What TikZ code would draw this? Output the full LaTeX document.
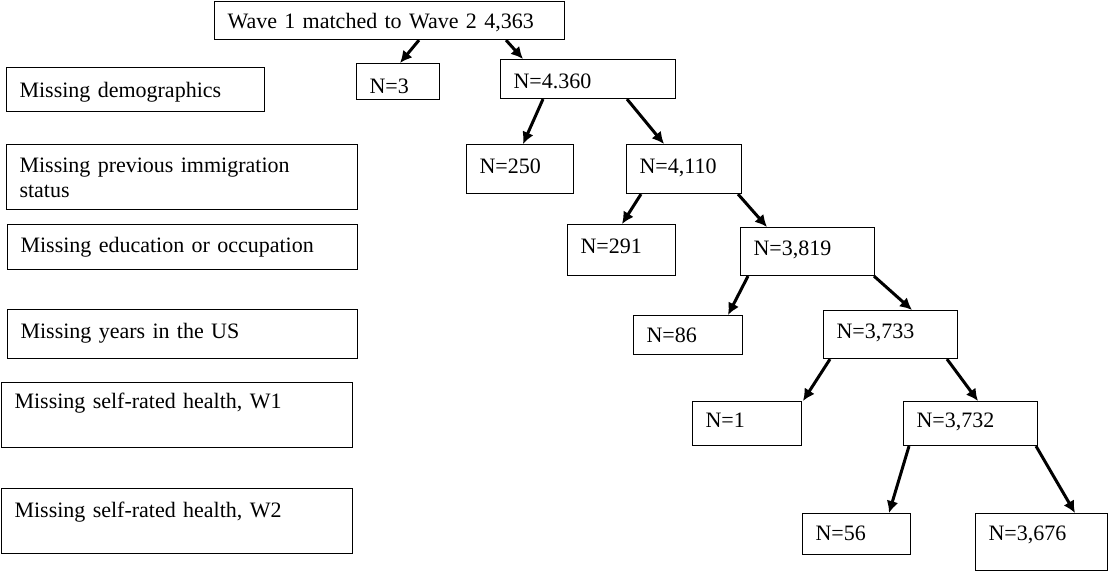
\documentclass[tikz,border=0pt]{standalone}
\usepackage{fontspec}
\setmainfont{Liberation Serif}
\usetikzlibrary{arrows.meta}
\begin{document}
\begin{tikzpicture}[x=1pt,y=-1pt,
    box/.style={draw,line width=1.1pt,anchor=north west,inner xsep=13pt,inner ysep=0pt,
        align=left,font=\fontsize{22pt}{25pt}\selectfont},
    arr/.style={-{Latex[length=12pt,width=12pt]},line width=3pt}]
\useasboundingbox (0,0) rectangle (1108,572);
% labels on the left
\node[box,text width=232pt,text height=30pt,text depth=14pt] (demo) at (6,67) {Missing demographics};
\node[box,text width=325pt,text height=28pt,text depth=37pt] (immig) at (6,144) {Missing previous immigration\\status};
\node[box,text width=324pt,text height=28pt,text depth=17pt] (edu) at (7,224) {Missing education or occupation};
\node[box,text width=324pt,text height=29pt,text depth=20pt] (years) at (7,309) {Missing years in the US};
\node[box,text width=325pt,text height=26pt,text depth=39pt] (srhone) at (1,382) {Missing self-rated health, W1};
\node[box,text width=325pt,text height=29pt,text depth=36pt] (srhtwo) at (1,488) {Missing self-rated health, W2};
% the tree
\node[box,text width=324pt,text height=27pt,text depth=11pt] (top) at (214,1) {Wave 1 matched to Wave 2 4,363};
\node[box,text width=57pt,text height=30pt,text depth=6pt] (n3) at (356,63) {N=3};
\node[box,text width=149pt,text height=29pt,text depth=10pt] (n4360) at (500,59) {N=4.360};
\node[box,text width=81pt,text height=29pt,text depth=20pt] (n250) at (466,144) {N=250};
\node[box,text width=89pt,text height=29pt,text depth=20pt] (n4110) at (626,144) {N=4,110};
\node[box,text width=82pt,text height=29pt,text depth=22pt] (n291) at (567,224) {N=291};
\node[box,text width=108pt,text height=28pt,text depth=20pt] (n3819) at (740,227) {N=3,819};
\node[box,text width=83pt,text height=27pt,text depth=12pt] (n86) at (633,315) {N=86};
\node[box,text width=108pt,text height=28pt,text depth=20pt] (n3733) at (823,310) {N=3,733};
\node[box,text width=83pt,text height=26pt,text depth=18pt] (n1) at (692,401) {N=1};
\node[box,text width=108pt,text height=26pt,text depth=18pt] (n3732) at (903,401) {N=3,732};
\node[box,text width=82pt,text height=27pt,text depth=14pt] (n56) at (802,513) {N=56};
\node[box,text width=106pt,text height=27pt,text depth=30pt] (n3676) at (975,513) {N=3,676};

\draw[arr] ([xshift=205pt]top.south west) -- ([xshift=44pt]n3.north west);
\draw[arr] ([xshift=292pt]top.south west) -- ([xshift=23pt]n4360.north west);
\draw[arr] ([xshift=43pt]n4360.south west) -- ([xshift=57pt]n250.north west);
\draw[arr] ([xshift=127pt]n4360.south west) -- ([xshift=38pt]n4110.north west);
\draw[arr] ([xshift=15pt]n4110.south west) -- ([xshift=55pt]n291.north west);
\draw[arr] ([xshift=112pt]n4110.south west) -- ([xshift=27pt]n3819.north west);
\draw[arr] ([xshift=8pt]n3819.south west) -- ([xshift=95pt]n86.north west);
\draw[arr] ([xshift=134pt]n3819.south west) -- ([xshift=89pt]n3733.north west);
\draw[arr] ([xshift=7pt]n3733.south west) -- ([xshift=111pt]n1.north west);
\draw[arr] ([xshift=124pt]n3733.south west) -- ([xshift=75pt]n3732.north west);
\draw[arr] ([xshift=6pt]n3732.south west) -- ([xshift=87pt]n56.north west);
\draw[arr] ([xshift=133pt]n3732.south west) -- ([xshift=100pt]n3676.north west);
\end{tikzpicture}
\end{document}
